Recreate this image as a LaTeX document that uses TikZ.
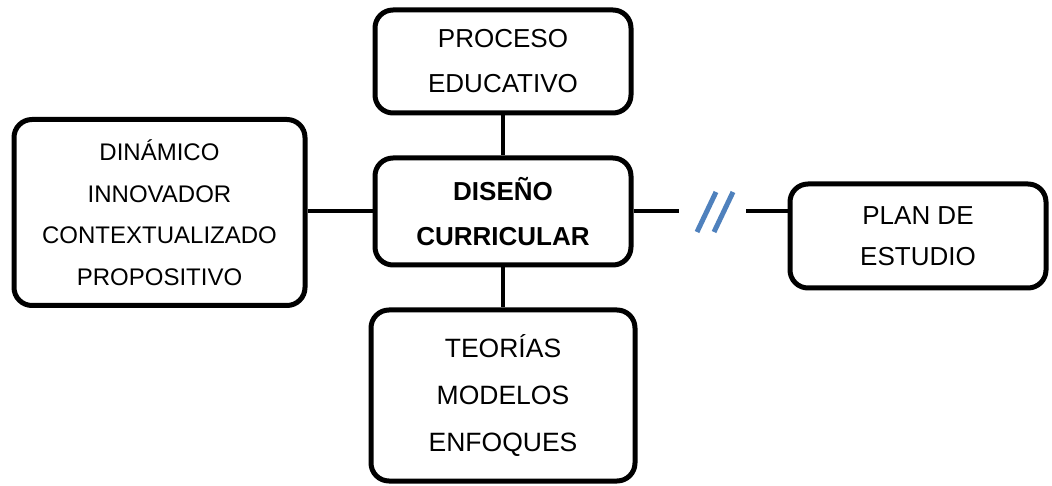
\documentclass[tikz,border=0pt]{standalone}
\usepackage{fontspec}
\setmainfont{Liberation Sans}
\definecolor{slashblue}{RGB}{79,129,189}
\begin{document}
\begin{tikzpicture}[x=1pt,y=-1pt,
  box/.style={draw, line width=5pt, rounded corners=18pt, align=center, inner sep=0pt},
  link/.style={line width=4pt}]
\useasboundingbox (0,0) rectangle (1052,486);
% boxes
\node[box, minimum width=256pt, minimum height=103pt, font=\fontsize{26}{45}\selectfont] (proceso) at (503, 61.5) {PROCESO\\EDUCATIVO};
\node[box, minimum width=256pt, minimum height=107pt, font=\fontsize{26}{45}\selectfont\bfseries] (diseno) at (503, 211.5) {DISEÑO\\CURRICULAR};
\node[box, minimum width=291pt, minimum height=186pt, font=\fontsize{24}{41.5}\selectfont] (dinamico) at (159.5, 212.5) {DINÁMICO\\INNOVADOR\\CONTEXTUALIZADO\\PROPOSITIVO};
\node[box, minimum width=256pt, minimum height=104pt, font=\fontsize{26}{41}\selectfont] (plan) at (918, 236) {PLAN DE\\ESTUDIO};
\node[box, minimum width=264pt, minimum height=171pt, font=\fontsize{26.5}{47}\selectfont] (teorias) at (503, 395.5) {TEORÍAS\\MODELOS\\ENFOQUES};
% connectors
\coordinate (brkL) at (679, 211.5);
\coordinate (brkR) at (746, 211.5);
\draw[link] (proceso) -- (diseno);
\draw[link] (diseno) -- (teorias);
\draw[link] (diseno.west) -- (diseno.west -| dinamico.east);
\draw[link] (diseno.east) -- (brkL);
\draw[link] (brkR) -- (brkR -| plan.west);
% break mark
\draw[slashblue, line width=5pt] (697,232) -- (716,192);
\draw[slashblue, line width=5pt] (714,232) -- (733,192);
\end{tikzpicture}
\end{document}
